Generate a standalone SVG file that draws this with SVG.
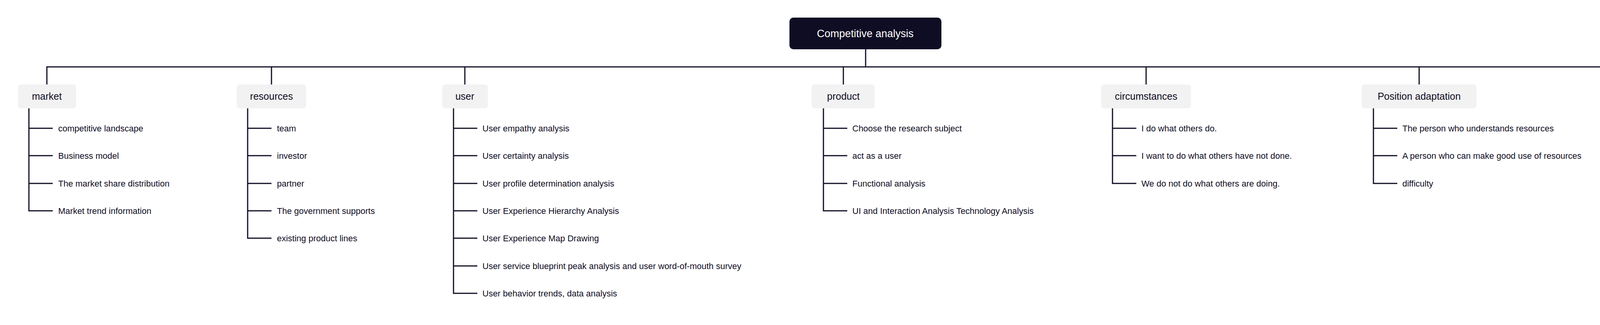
<svg xmlns="http://www.w3.org/2000/svg" width="4670" height="831" viewBox="0 0 4670 831">
<style>
.c{fill:none;stroke:#0f0d23;stroke-width:3}
.b{fill:#f2f2f2}
.bt{font-family:"Segoe UI","Liberation Sans",Arial,sans-serif;font-size:25px;fill:#0f0d23;text-anchor:middle}
.t{font-family:"Segoe UI","Liberation Sans",Arial,sans-serif;font-size:22px;fill:#0f0d23}
.rt{font-family:"Segoe UI","Liberation Sans",Arial,sans-serif;font-size:27px;fill:#ffffff;text-anchor:middle}
</style>
<rect width="4670" height="831" fill="#ffffff"/>
<g id="connectors">
<path class="c" d="M2216 126V171"/>
<path class="c" d="M120 216V171H4311V216"/>
<path class="c" d="M695 171V216M1190 171V216M2159 171V216M2934 171V216M3633 171V216"/>
<path class="c" d="M74 277V539H135M74 328H135M74 398H135M74 469H135"/>
<path class="c" d="M634 277V609H695M634 328H695M634 398H695M634 469H695M634 539H695"/>
<path class="c" d="M1161 277V750H1222M1161 328H1222M1161 398H1222M1161 469H1222M1161 539H1222M1161 609H1222M1161 680H1222"/>
<path class="c" d="M2108 277V539H2169M2108 328H2169M2108 398H2169M2108 469H2169"/>
<path class="c" d="M2848 277V469H2909M2848 328H2909M2848 398H2909"/>
<path class="c" d="M3516 277V469H3577M3516 328H3577M3516 398H3577"/>
<path class="c" d="M4250 277V750H4311M4250 328H4311M4250 398H4311M4250 469H4311M4250 539H4311M4250 609H4311M4250 680H4311"/>
</g>
<g id="root"><rect x="2021" y="45" width="389" height="81" rx="10" fill="#0f0d23"/><text class="rt" x="2215" y="95">Competitive analysis</text></g>
<g id="market"><rect class="b" x="46" y="216" width="149" height="61" rx="8"/><text class="bt" x="120" y="255">market</text>
<text class="t" x="149" y="336">competitive landscape</text><text class="t" x="149" y="406">Business model</text><text class="t" x="149" y="477">The market share distribution</text><text class="t" x="149" y="547">Market trend information</text></g>
<g id="resources"><rect class="b" x="606" y="216" width="178" height="61" rx="8"/><text class="bt" x="695" y="255">resources</text>
<text class="t" x="709" y="336">team</text><text class="t" x="709" y="406">investor</text><text class="t" x="709" y="477">partner</text><text class="t" x="709" y="547">The government supports</text><text class="t" x="709" y="617">existing product lines</text></g>
<g id="user"><rect class="b" x="1132" y="216" width="117" height="61" rx="8"/><text class="bt" x="1190" y="255">user</text>
<text class="t" x="1235" y="336">User empathy analysis</text><text class="t" x="1235" y="406">User certainty analysis</text><text class="t" x="1235" y="477">User profile determination analysis</text><text class="t" x="1235" y="547">User Experience Hierarchy Analysis</text><text class="t" x="1235" y="617">User Experience Map Drawing</text><text class="t" x="1235" y="688">User service blueprint peak analysis and user word-of-mouth survey</text><text class="t" x="1235" y="758">User behavior trends, data analysis</text></g>
<g id="product"><rect class="b" x="2078" y="216" width="161" height="61" rx="8"/><text class="bt" x="2159" y="255">product</text>
<text class="t" x="2182" y="336">Choose the research subject</text><text class="t" x="2182" y="406">act as a user</text><text class="t" x="2182" y="477">Functional analysis</text><text class="t" x="2182" y="547">UI and Interaction Analysis Technology Analysis</text></g>
<g id="circumstances"><rect class="b" x="2819" y="216" width="230" height="61" rx="8"/><text class="bt" x="2934" y="255">circumstances</text>
<text class="t" x="2922" y="336">I do what others do.</text><text class="t" x="2922" y="406">I want to do what others have not done.</text><text class="t" x="2922" y="477">We do not do what others are doing.</text></g>
<g id="position"><rect class="b" x="3486" y="216" width="294" height="61" rx="8"/><text class="bt" x="3633" y="255">Position adaptation</text>
<text class="t" x="3590" y="336">The person who understands resources</text><text class="t" x="3590" y="406">A person who can make good use of resources</text><text class="t" x="3590" y="477">difficulty</text></g>
<g id="operation"><rect class="b" x="4221" y="216" width="181" height="61" rx="8"/><text class="bt" x="4311" y="255">operation</text>
<text class="t" x="4324" y="336">marketing</text><text class="t" x="4324" y="406">Online influence</text><text class="t" x="4324" y="477">Traffic analysis</text><text class="t" x="4324" y="547">Operational time estimation</text><text class="t" x="4324" y="617">User estimation</text><text class="t" x="4324" y="688">Operational cost estimation</text><text class="t" x="4324" y="758">Revenue forecast</text></g>
</svg>
